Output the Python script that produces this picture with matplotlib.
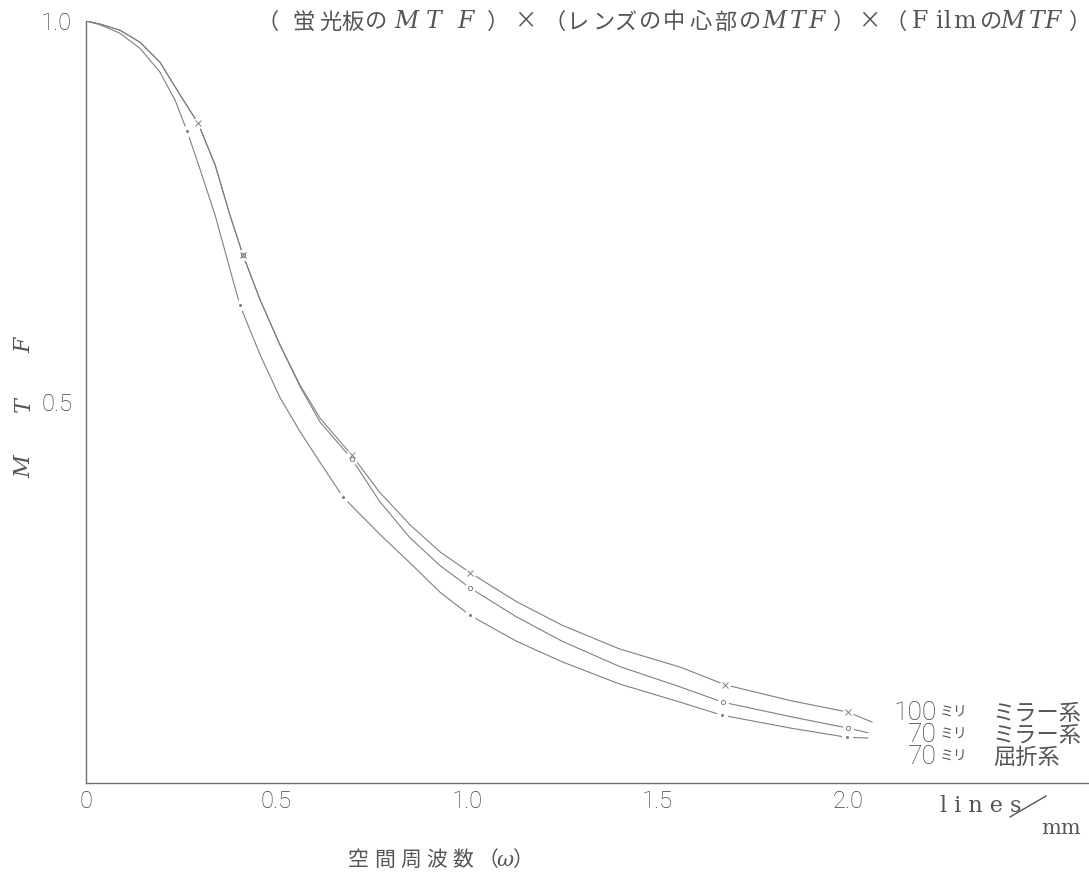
import matplotlib
matplotlib.use("Agg")
import matplotlib.pyplot as plt
from matplotlib.lines import Line2D

# Spatial frequency (lines/mm) and combined MTF readings for each optical system
freq_mirror_100 = [0.0, 0.037, 0.089, 0.142, 0.194, 0.247, 0.294, 0.339, 0.378, 0.412,
                   0.457, 0.509, 0.562, 0.614, 0.698, 0.77, 0.85, 0.93, 1.008, 1.13,
                   1.25, 1.40, 1.56, 1.677, 1.85, 2.0, 2.063]
mtf_mirror_100 = [1.0, 0.996, 0.988, 0.972, 0.946, 0.903, 0.866, 0.811, 0.745, 0.693,
                  0.634, 0.575, 0.522, 0.479, 0.430, 0.382, 0.339, 0.303, 0.276, 0.238,
                  0.207, 0.176, 0.152, 0.129, 0.108, 0.093, 0.080]

freq_mirror_70 = [0.0, 0.037, 0.089, 0.142, 0.194, 0.247, 0.294, 0.339, 0.378, 0.412,
                  0.457, 0.509, 0.562, 0.614, 0.698, 0.77, 0.85, 0.93, 1.008, 1.13,
                  1.25, 1.40, 1.56, 1.672, 1.85, 2.0, 2.052]
mtf_mirror_70 = [1.0, 0.996, 0.988, 0.972, 0.946, 0.903, 0.866, 0.811, 0.745, 0.693,
                 0.634, 0.575, 0.520, 0.474, 0.425, 0.370, 0.322, 0.285, 0.256, 0.218,
                 0.186, 0.153, 0.126, 0.106, 0.087, 0.072, 0.066]

freq_refractor_70 = [0.0, 0.037, 0.089, 0.142, 0.194, 0.234, 0.265, 0.299, 0.339, 0.373,
                     0.404, 0.457, 0.509, 0.562, 0.614, 0.675, 0.77, 0.85, 0.93, 1.008,
                     1.13, 1.25, 1.40, 1.56, 1.669, 1.85, 1.997, 2.052]
mtf_refractor_70 = [1.0, 0.995, 0.984, 0.964, 0.933, 0.896, 0.856, 0.806, 0.745, 0.683,
                    0.627, 0.562, 0.506, 0.461, 0.421, 0.375, 0.327, 0.289, 0.250, 0.220,
                    0.186, 0.159, 0.130, 0.106, 0.089, 0.072, 0.060, 0.059]

# Measured points marked on each curve
mark_freq_mirror_100 = [0.294, 0.412, 0.698, 1.008, 1.677, 2.0]
mark_mtf_mirror_100 = [0.866, 0.693, 0.430, 0.276, 0.129, 0.093]
mark_freq_mirror_70 = [0.412, 0.698, 1.008, 1.672, 2.0]
mark_mtf_mirror_70 = [0.693, 0.425, 0.256, 0.106, 0.072]
mark_freq_refractor_70 = [0.265, 0.404, 0.675, 1.008, 1.669, 1.997]
mark_mtf_refractor_70 = [0.856, 0.627, 0.375, 0.220, 0.089, 0.060]

x_ticks = [0.0, 0.5, 1.0, 1.5, 2.0]
x_tick_labels = ["0", "0.5", "1.0", "1.5", "2.0"]
y_ticks = [0.5, 1.0]
y_tick_labels = ["0.5", "1.0"]

title_glyphs = list("（蛍光板のMTF）×（レンズの中心部のMTF）×（FilmのMTF）")
title_x = [268, 303, 330, 353, 376, 406, 434, 466, 498, 525, 555, 577, 604, 625, 650,
           674, 701, 725, 750, 774, 798, 817, 844, 869, 896, 920, 939, 947, 964, 991,
           1012, 1037, 1053, 1080]
italic_idx = {5, 6, 7, 19, 20, 21, 30, 31, 32}
latin_idx = {25, 26, 27, 28}

curve_labels = [("100", "ミラー系", 713), ("70", "ミラー系", 735), ("70", "屈折系", 757)]

CJK = "Noto Sans CJK JP"
NUM = "Roboto"
INK = "#555555"
NUM_INK = "#404040"
LINE = "#808080"

W, H = 1089, 891
fig = plt.figure(figsize=(W / 100, H / 100), dpi=100)
fig.patch.set_facecolor("white")


def fx(px):
    return px / W


def fy(py):
    return 1 - py / H


ax = fig.add_axes([fx(86), fy(783), (W - 86) / W, 762 / H])
ax.set_xlim(0, (W - 86) / 381)
ax.set_ylim(0, 1.0)
for side in ("top", "right"):
    ax.spines[side].set_visible(False)
for side in ("left", "bottom"):
    ax.spines[side].set_color("#707070")
    ax.spines[side].set_linewidth(1.0)

ax.set_xticks(x_ticks)
ax.set_xticklabels(x_tick_labels)
ax.set_yticks(y_ticks)
ax.set_yticklabels(y_tick_labels)
ax.tick_params(axis="both", length=0, labelcolor=NUM_INK, labelsize=17)
ax.tick_params(axis="x", pad=5)
ax.tick_params(axis="y", pad=10)
for lab in ax.get_xticklabels() + ax.get_yticklabels():
    lab.set_fontfamily(NUM)
    lab.set_fontweight("light")

series = [
    (freq_mirror_100, mtf_mirror_100, mark_freq_mirror_100, mark_mtf_mirror_100, "x", 4.0),
    (freq_mirror_70, mtf_mirror_70, mark_freq_mirror_70, mark_mtf_mirror_70, "o", 3.0),
    (freq_refractor_70, mtf_refractor_70, mark_freq_refractor_70, mark_mtf_refractor_70, ".", 3.0),
]
for sx, sy, mx, my, mk, ms in series:
    ax.plot(sx, sy, color=LINE, lw=0.8, zorder=2, solid_joinstyle="round")
for sx, sy, mx, my, mk, ms in series:
    ax.plot(mx, my, ls="none", marker="o", ms=8, mfc="white", mec="none", zorder=3)
for sx, sy, mx, my, mk, ms in series:
    ax.plot(mx, my, ls="none", marker=mk, ms=ms, mfc="none" if mk == "o" else LINE,
            mec=LINE, mew=0.7, zorder=4)

# Title: Japanese glyphs with italic serif M T F
for i, (g, xp) in enumerate(zip(title_glyphs, title_x)):
    if i in italic_idx:
        kw = dict(family="DejaVu Serif", style="italic", fontsize=17)
    elif i in latin_idx:
        kw = dict(family="DejaVu Serif", fontsize=17)
    else:
        kw = dict(family=CJK, fontsize=16)
    fig.text(fx(xp), fy(22), g, ha="center", va="center", color=INK, **kw)

# Axis captions
for g, yp in (("M", 467), ("T", 405), ("F", 345)):
    fig.text(fx(24), fy(yp), g, rotation=90, ha="center", va="center",
             family="DejaVu Serif", style="italic", fontsize=16, color=INK)
for g, xp in zip("空間周波数（ω）", [358, 385, 411, 437, 463, 488, 505, 522]):
    style = "italic" if g == "ω" else "normal"
    fam = "DejaVu Serif" if g == "ω" else CJK
    fig.text(fx(xp), fy(860), g, ha="center", va="center",
             family=fam, style=style, fontsize=15, color=INK)
fig.text(fx(940), fy(806), "l i n e s", ha="left", va="center",
         family="DejaVu Serif", fontsize=16, color=INK)
fig.add_artist(Line2D([fx(1010), fx(1046)], [fy(817), fy(796)], color=INK, lw=1.0))
fig.text(fx(1061), fy(829), "mm", ha="center", va="center",
         family="DejaVu Serif", fontsize=15, color=INK)

# Curve labels at the right end of the curves
for num, kind, ypx in curve_labels:
    fig.text(fx(937), fy(ypx), num, ha="right", va="center",
             family=NUM, fontweight="light", fontsize=19, color=NUM_INK)
    fig.text(fx(940), fy(ypx), "ミリ", ha="left", va="center",
             family=CJK, fontsize=10, color=INK)
    fig.text(fx(993), fy(ypx), kind, ha="left", va="center",
             family=CJK, fontsize=16, color=INK)

fig.savefig("out.png", dpi=100, facecolor="white")
